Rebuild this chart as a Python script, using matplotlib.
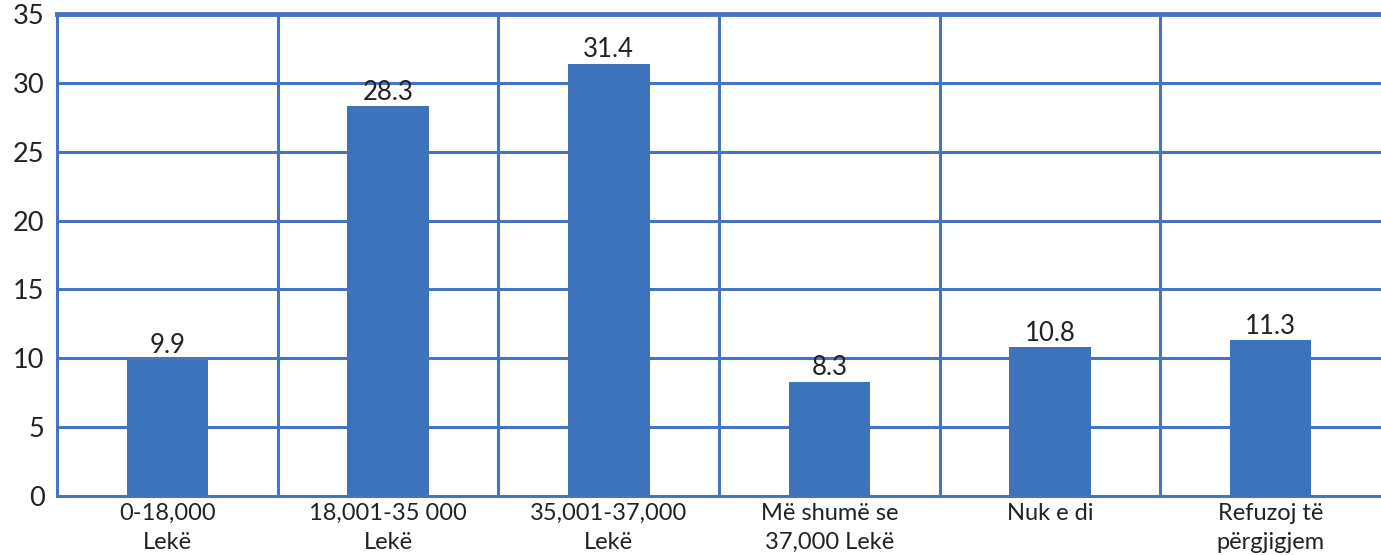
import numpy as np
import matplotlib.pyplot as plt

# Categories and shares (%)
categories = ["0-18,000\nLekë", "18,001-35 000\nLekë", "35,001-37,000\nLekë",
              "Më shumë se\n37,000 Lekë", "Nuk e di", "Refuzoj të\npërgjigjem"]
values = [9.9, 28.3, 31.4, 8.3, 10.8, 11.3]
yticks = [0, 5, 10, 15, 20, 25, 30, 35]

blue = "#3C73BA"
grid_blue = "#4674C1"

plt.rcParams['font.family'] = ['Lato', 'DejaVu Sans']

fig = plt.figure(figsize=(13.81, 5.55), dpi=100)
ax = fig.add_axes([0.0413, 0.1063, 0.9587, 0.8685])

x = np.arange(len(categories))
bars = ax.bar(x, values, width=0.37, color=blue, zorder=3)

# Value labels above bars
for b, v in zip(bars, values):
    ax.text(b.get_x() + b.get_width() / 2, v + 0.1, f"{v}",
            ha="center", va="bottom", fontsize=18.5, color="#222222", zorder=4)

ax.set_xlim(-0.5, len(categories) - 0.5)
ax.set_ylim(0, 35)
ax.set_yticks(yticks)
ax.set_xticks(x)
ax.set_xticklabels(categories, fontsize=17, color="#222222", linespacing=1.45)
ax.tick_params(axis="y", labelsize=19.5, labelcolor="#222222", length=0, pad=9)
ax.tick_params(axis="x", length=0, pad=5)

# Horizontal grid lines
for t in yticks[1:-1]:
    ax.axhline(t, color=grid_blue, linewidth=2.2, zorder=1)
# Vertical separators between categories
for b in np.arange(0.5, len(categories) - 0.5, 1):
    ax.axvline(b, color=grid_blue, linewidth=2.2, zorder=1)

for side in ["left", "bottom", "top"]:
    ax.spines[side].set_color(grid_blue)
    ax.spines[side].set_linewidth(2.2)
ax.spines["top"].set_linewidth(3.5)
ax.spines["right"].set_visible(False)

fig.savefig("out.png", dpi=100)
